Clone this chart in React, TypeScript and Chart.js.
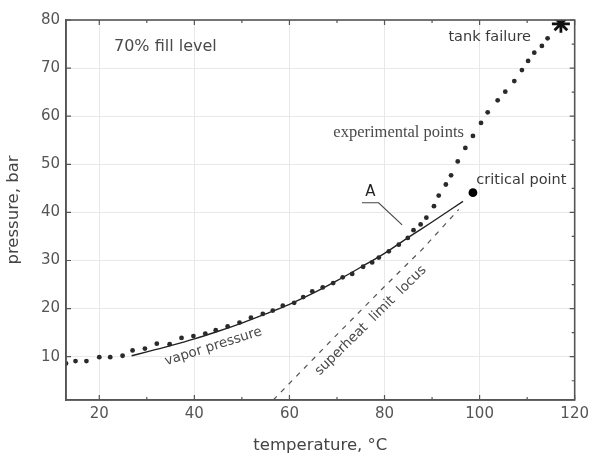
import { useEffect, useRef } from "react";
import { Chart, registerables } from "chart.js";

Chart.register(...registerables);

// ---- axis ticks ----
const X_TICKS = [20, 40, 60, 80, 100, 120];
const X_MINOR = [30, 50, 70, 90, 110];
const Y_TICKS = [10, 20, 30, 40, 50, 60, 70, 80];
const Y_MINOR = [5, 15, 25, 35, 45, 55, 65, 75];

// ---- experimental points (temperature °C, pressure bar) ----
const EXP_T = [13.0, 15.0, 17.3, 20.0, 22.3, 24.9, 27.0, 29.6, 32.1, 34.8, 37.3, 39.8, 42.3, 44.5, 47.0, 49.5, 51.9, 54.4, 56.5, 58.6, 61.0, 62.9, 64.8, 67.0, 69.2, 71.2, 73.2, 75.5, 77.4, 78.8, 80.9, 83.0, 84.9, 86.1, 87.6, 88.8, 90.4, 91.4, 92.9, 94.0, 95.4, 97.0, 98.6, 100.3, 101.7, 103.8, 105.4, 107.3, 108.9, 110.2, 111.5, 113.1, 114.3];
const EXP_P = [8.6, 9.1, 9.1, 9.9, 9.9, 10.2, 11.3, 11.7, 12.7, 12.6, 13.9, 14.3, 14.8, 15.5, 16.3, 17.1, 18.1, 18.9, 19.6, 20.6, 21.2, 22.4, 23.6, 24.4, 25.3, 26.5, 27.2, 28.7, 29.6, 30.6, 31.9, 33.3, 34.7, 36.3, 37.5, 38.9, 41.3, 43.5, 45.8, 47.7, 50.6, 53.4, 55.9, 58.6, 60.8, 63.3, 65.1, 67.3, 69.6, 71.5, 73.2, 74.6, 76.2];

// ---- vapor pressure curve ----
const VAP_T = [26.8, 30, 35, 40, 45, 50, 55, 60, 65, 70, 75, 80, 85, 90, 96.5];
const VAP_P = [10.2, 11.0, 12.3, 13.7, 15.3, 17.0, 18.9, 20.9, 23.2, 25.8, 28.6, 31.5, 34.8, 38.0, 42.3];

// ---- superheat limit locus ----
const SH_T = [56.6, 70, 80, 88, 95.6];
const SH_P = [1.0, 14.6, 24.6, 32.4, 40.6];

// ---- special points ----
const CRIT_T = [98.6];
const CRIT_P = [44.1];
const FAIL_T = [117.1];
const FAIL_P = [79.2];

// ---- "A" leader line ----
const A_T = [75.25, 78.75, 83.7];
const A_P = [42.0, 42.0, 37.4];

const toXY = (xs: number[], ys: number[]) => xs.map((x, i) => ({ x, y: ys[i] }));

type Note = {
  text: string;
  x: number;
  y: number;
  align: CanvasTextAlign;
  font: string;
  color: string;
  angle?: number;
};

const NOTES: Note[] = [
  { text: "70% fill level", x: 33.9, y: 74.4, align: "center", font: "16px 'DejaVu Sans'", color: "#4a4a4a" },
  { text: "tank failure", x: 110.8, y: 76.4, align: "right", font: "14.5px 'DejaVu Sans'", color: "#3a3a3a" },
  { text: "experimental points", x: 96.7, y: 56.5, align: "right", font: "16.5px 'Liberation Serif'", color: "#4a4a4a" },
  { text: "critical point", x: 99.3, y: 46.7, align: "left", font: "14.5px 'DejaVu Sans'", color: "#3a3a3a" },
  { text: "A", x: 77.0, y: 44.2, align: "center", font: "15px 'DejaVu Sans'", color: "#222" },
  { text: "vapor pressure", x: 44.0, y: 12.1, align: "center", font: "13.5px 'DejaVu Sans'", color: "#4a4a4a", angle: -17.5 },
  { text: "superheat  limit  locus", x: 77.1, y: 17.5, align: "center", font: "13.5px 'DejaVu Sans'", color: "#4a4a4a", angle: -44.5 },
];

const FONT = "'DejaVu Sans'";

const decor = {
  id: "decor",
  beforeDraw(chart: any) {
    const { ctx, width, height } = chart;
    ctx.save();
    ctx.fillStyle = "#fff";
    ctx.fillRect(0, 0, width, height);
    ctx.restore();
  },
  afterDraw(chart: any) {
    const { ctx, chartArea: a, scales } = chart;
    const x = scales.x;
    const y = scales.y;
    ctx.save();
    ctx.strokeStyle = "#555";
    ctx.lineWidth = 1.6;
    ctx.strokeRect(a.left, a.top, a.right - a.left, a.bottom - a.top);
    ctx.lineWidth = 1.2;
    ctx.beginPath();
    const xt = (v: number, len: number) => {
      const px = x.getPixelForValue(v);
      ctx.moveTo(px, a.bottom);
      ctx.lineTo(px, a.bottom - len);
      ctx.moveTo(px, a.top);
      ctx.lineTo(px, a.top + len);
    };
    const yt = (v: number, len: number, left: boolean) => {
      const py = y.getPixelForValue(v);
      if (left) {
        ctx.moveTo(a.left, py);
        ctx.lineTo(a.left + len, py);
      }
      ctx.moveTo(a.right, py);
      ctx.lineTo(a.right - len, py);
    };
    X_TICKS.forEach((v) => xt(v, 5));
    X_MINOR.forEach((v) => xt(v, 3));
    Y_TICKS.forEach((v) => yt(v, 5, true));
    Y_MINOR.forEach((v) => yt(v, 3, false));
    ctx.stroke();

    NOTES.forEach((n) => {
      const px = x.getPixelForValue(n.x);
      const py = y.getPixelForValue(n.y);
      ctx.save();
      ctx.translate(px, py);
      if (n.angle) ctx.rotate((n.angle * Math.PI) / 180);
      ctx.font = n.font;
      ctx.fillStyle = n.color;
      ctx.textAlign = n.align;
      ctx.textBaseline = "middle";
      ctx.fillText(n.text, 0, 0);
      ctx.restore();
    });
    ctx.restore();
  },
};

export default function App() {
  const ref = useRef<HTMLCanvasElement | null>(null);

  useEffect(() => {
    if (!ref.current) return;
    const chart = new Chart(ref.current, {
      type: "scatter",
      data: {
        datasets: [
          {
            label: "experimental points",
            data: toXY(EXP_T, EXP_P),
            showLine: false,
            pointRadius: 2.4,
            pointBackgroundColor: "#2a2a2a",
            pointBorderWidth: 0,
          },
          {
            label: "vapor pressure",
            data: toXY(VAP_T, VAP_P),
            showLine: true,
            borderColor: "#222",
            borderWidth: 1.4,
            pointRadius: 0,
            cubicInterpolationMode: "monotone",
          },
          {
            label: "superheat limit locus",
            data: toXY(SH_T, SH_P),
            showLine: true,
            borderColor: "#555",
            borderWidth: 1.2,
            borderDash: [5, 6],
            pointRadius: 0,
          },
          {
            label: "A",
            data: toXY(A_T, A_P),
            showLine: true,
            borderColor: "#444",
            borderWidth: 1.1,
            pointRadius: 0,
          },
          {
            label: "critical point",
            data: toXY(CRIT_T, CRIT_P),
            showLine: false,
            pointRadius: 4.4,
            pointBackgroundColor: "#000",
            pointBorderWidth: 0,
          },
          {
            label: "tank failure",
            data: toXY(FAIL_T, FAIL_P),
            showLine: false,
            pointStyle: "star",
            pointRadius: 9,
            pointBorderColor: "#111",
            pointBorderWidth: 2.8,
          },
        ],
      },
      options: {
        responsive: false,
        animation: false,
        events: [],
        layout: { padding: { left: 0, right: 17, top: 20, bottom: 0 } },
        plugins: {
          legend: { display: false },
          tooltip: { enabled: false },
        },
        scales: {
          x: {
            type: "linear",
            min: 13,
            max: 120,
            afterBuildTicks: (s: any) => {
              s.ticks = X_TICKS.map((v) => ({ value: v }));
            },
            afterFit: (s: any) => {
              s.height = 59;
            },
            ticks: {
              font: { family: FONT, size: 15 },
              color: "#555",
              padding: 5,
              maxRotation: 0,
              autoSkip: false,
            },
            grid: { color: "#e8e8e8", drawTicks: false, lineWidth: 1 },
            border: { color: "#555", width: 1.6 },
            title: {
              display: true,
              text: "temperature, °C",
              font: { family: FONT, size: 16.5 },
              color: "#444",
              padding: { top: 0, bottom: 3 },
            },
          },
          y: {
            type: "linear",
            min: 1,
            max: 80,
            afterBuildTicks: (s: any) => {
              s.ticks = Y_TICKS.map((v) => ({ value: v }));
            },
            afterFit: (s: any) => {
              s.width = 66;
            },
            ticks: {
              font: { family: FONT, size: 15 },
              color: "#555",
              padding: 6,
              autoSkip: false,
            },
            grid: { color: "#e8e8e8", drawTicks: false, lineWidth: 1 },
            border: { color: "#555", width: 1.6 },
            title: {
              display: true,
              text: "pressure, bar",
              font: { family: FONT, size: 16.5 },
              color: "#444",
              padding: { top: 4, bottom: 0 },
            },
          },
        },
      },
      plugins: [decor],
    } as any);
    return () => chart.destroy();
  }, []);

  return (
    <div style={{ position: "fixed", left: 0, top: 0, width: 594, height: 459, background: "#fff" }}>
      <canvas ref={ref} width={594} height={459} style={{ display: "block" }} />
    </div>
  );
}
